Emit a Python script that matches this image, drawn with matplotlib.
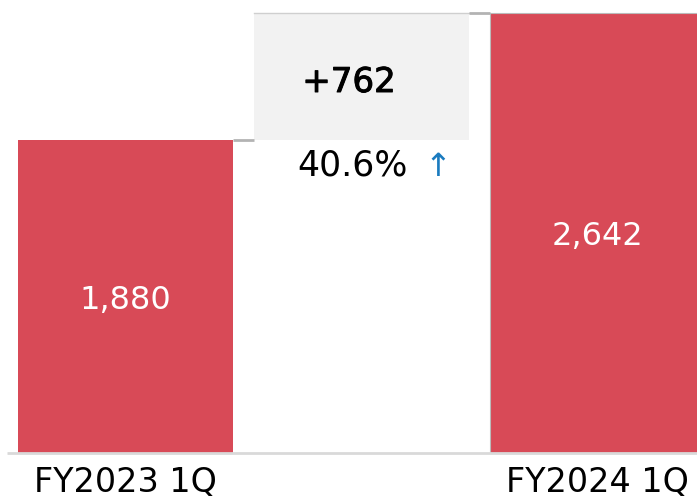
import matplotlib
matplotlib.use("Agg")
import matplotlib.pyplot as plt
import matplotlib.patheffects as pe

categories = ["FY2023 1Q", "FY2024 1Q"]
values = [1880, 2642]
delta_label = "+762"
pct_label = "40.6%"

BAR_COLOR = "#D84A57"
BOX_COLOR = "#F2F2F2"
plt.rcParams['font.family'] = ['DejaVu Sans']

fig = plt.figure(figsize=(6.97, 5.0), dpi=100)
ax = fig.add_axes([0, 47/500, 1, 453/500])
ax.set_xlim(-0.532, 2.422)
ax.set_ylim(0, 2718)
ax.axis('off')

w = 0.911
start, end = values
delta = end - start

# bars
ax.bar(0, start, width=w, color=BAR_COLOR, zorder=2)
ax.bar(2, end, width=w, color=BAR_COLOR, edgecolor="#BBBBBB", linewidth=0.8, zorder=2)
# floating delta box
ax.bar(1, delta, bottom=start, width=w, color=BOX_COLOR, zorder=1)
ax.plot([1 - w/2, 1 + w/2], [end, end], color="#CFCFCF", lw=1.0, zorder=3)

# connectors
ax.plot([0 + w/2, 1 - w/2], [start, start], color="#B3B3B3", lw=2, zorder=3, solid_capstyle='butt')
ax.plot([1 + w/2, 2 - w/2], [end, end], color="#B3B3B3", lw=2, zorder=3, solid_capstyle='butt')

# baseline
ax.plot([-0.502, 2.422], [0, 0], color="#D9D9D9", lw=2, zorder=3, clip_on=False, solid_capstyle='butt')

# value labels
ax.text(0, 864, f"{start:,}", color="white", fontsize=23, ha="center", va="baseline", zorder=4)
ax.text(2, 1248, f"{end:,}", color="white", fontsize=23, ha="center", va="baseline", zorder=4)
ax.text(0.947, 2166, delta_label, color="black", fontsize=24.5, fontweight="normal",
        ha="center", va="baseline", zorder=4,
        path_effects=[pe.withStroke(linewidth=0.7, foreground="black")])
ax.text(0.727, 1662, pct_label, color="black", fontsize=25, ha="left", va="baseline", zorder=4)
ax.text(1.324, 1662, "↑", color="#1A7BBF", fontsize=23, ha="center", va="baseline", zorder=4)

# category labels
for i, c in zip([0, 2], categories):
    ax.text(i, -236, c, color="black", fontsize=24, ha="center", va="baseline", clip_on=False)

fig.savefig("out.png", dpi=100)
